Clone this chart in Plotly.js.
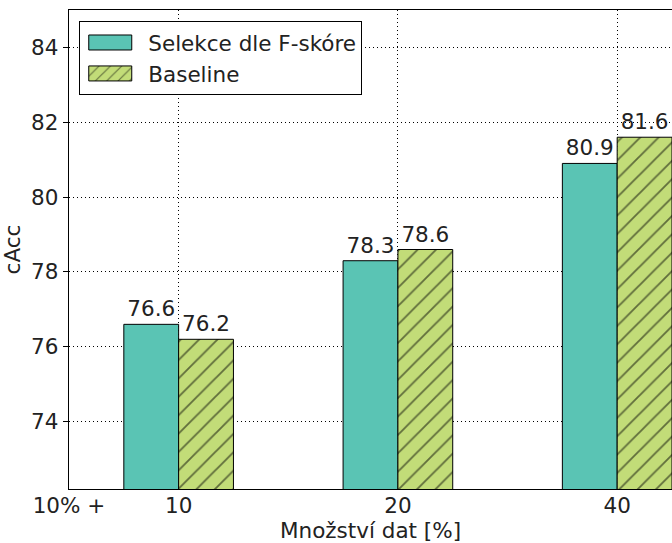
<!DOCTYPE html>
<html>
<head>
<meta charset="utf-8">
<script src="https://cdn.plot.ly/plotly-3.0.1.min.js"></script>
<style>
html, body { margin: 0; padding: 0; background: #fff; overflow: hidden; }
#chart { width: 672px; height: 543px; }
</style>
</head>
<body>
<div id="chart"></div>
<script>
// Data
const categories = ['10', '20', '40'];
const firstTickLabel = '10% +';
const seriesNames = ['Selekce dle F-skóre', 'Baseline'];
const selekceValues = [76.6, 78.3, 80.9];
const baselineValues = [76.2, 78.6, 81.6];
const yTicks = [74, 76, 78, 80, 82, 84];

const positions = categories.map((c, i) => i);
const font = 'DejaVu Sans, sans-serif';
const textColor = '#222222';
const fs = 21.5;

const traces = [
  {
    type: 'bar',
    name: seriesNames[0],
    x: positions,
    y: selekceValues,
    marker: { color: '#5ac4b4', line: { color: '#000000', width: 1 } },
    text: selekceValues.map(v => v.toFixed(1)),
    textposition: 'outside',
    constraintext: 'none',
    textfont: { family: font, size: fs, color: textColor },
    cliponaxis: false,
    legendgroup: 'a',
    hoverinfo: 'x+y'
  },
  {
    type: 'bar',
    name: seriesNames[1],
    x: positions,
    y: baselineValues,
    marker: {
      color: '#c2dc78',
      line: { color: '#000000', width: 1 },
      pattern: { shape: '/', fgcolor: '#000000', bgcolor: '#c2dc78', size: 13, solidity: 0.14, fillmode: 'overlay' }
    },
    text: baselineValues.map(v => v.toFixed(1)),
    textposition: 'outside',
    constraintext: 'none',
    textfont: { family: font, size: fs, color: textColor },
    cliponaxis: false,
    legendgroup: 'b',
    hoverinfo: 'x+y'
  }
];

const layout = {
  width: 672,
  height: 543,
  margin: { l: 69, r: 0, t: 10, b: 54 },
  paper_bgcolor: '#ffffff',
  plot_bgcolor: '#ffffff',
  font: { family: font, size: fs, color: textColor },
  barmode: 'group',
  bargap: 0.5,
  bargroupgap: 0,
  showlegend: true,
  legend: {
    x: 0.017, y: 0.977, xanchor: 'left', yanchor: 'top',
    bgcolor: '#ffffff', bordercolor: '#000000', borderwidth: 1,
    font: { family: font, size: fs, color: textColor },
    itemwidth: 58,
    tracegroupgap: 7,
    traceorder: 'normal'
  },
  xaxis: {
    range: [-0.5, 2.25],
    tickmode: 'array',
    tickvals: [-0.5].concat(positions),
    ticktext: [firstTickLabel].concat(categories),
    ticks: '',
    ticklabelstandoff: -3,
    showline: true, linecolor: '#000000', linewidth: 1.3, mirror: true,
    showgrid: true, gridcolor: '#000000', gridwidth: 1, griddash: '1px,3px',
    zeroline: false,
    tickfont: { family: font, size: fs, color: textColor },
    title: { text: 'Množství dat [%]', font: { family: font, size: fs, color: textColor }, standoff: 8 }
  },
  yaxis: {
    range: [72.2, 85],
    tickmode: 'array',
    tickvals: yTicks,
    ticks: 'outside', ticklen: 5, tickwidth: 1, tickcolor: '#000000',
    showline: true, linecolor: '#000000', linewidth: 1.3, mirror: false,
    showgrid: true, gridcolor: '#000000', gridwidth: 1, griddash: '1px,3px',
    zeroline: false,
    tickfont: { family: font, size: fs, color: textColor },
    title: { text: 'cAcc', font: { family: font, size: fs, color: textColor }, standoff: 6 }
  }
};

Plotly.newPlot('chart', traces, layout, { displayModeBar: false, staticPlot: true }).then(gd => {
  // widen the legend swatches to matplotlib-like rectangles
  const bg = gd.querySelector('.legend rect.bg');
  if (!bg) return;
  const boxLeft = bg.getBoundingClientRect().left;
  gd.querySelectorAll('.legend .legendpoints path').forEach(p => {
    const r = p.getBoundingClientRect();
    const cx = (r.left + r.right) / 2;
    const dx = (boxLeft + 30.5) - cx;
    const hw = 21.5, hh = 7.5;
    p.setAttribute('d', 'M' + (dx + hw) + ',' + hh + 'H' + (dx - hw) + 'V' + (-hh) + 'H' + (dx + hw) + 'Z');
  });
});
</script>
</body>
</html>
